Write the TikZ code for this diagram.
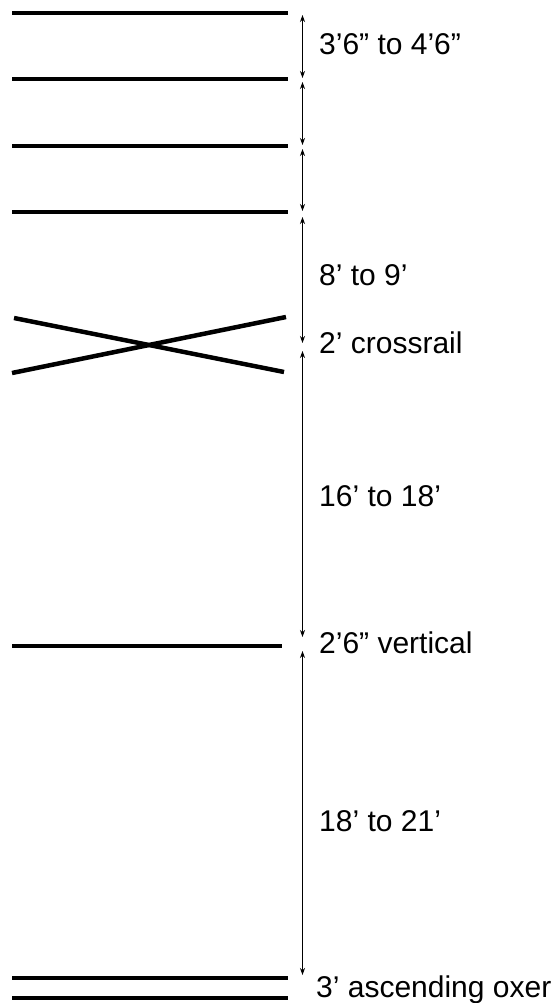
\documentclass[tikz,border=0pt]{standalone}
\usepackage{fontspec}
\setmainfont{Liberation Sans}
\usetikzlibrary{arrows.meta}
\begin{document}
\begin{tikzpicture}[x=1pt,y=-1pt,
  rail/.style={line width=4.5pt, black},
  dim/.style={line width=0.8pt, {Stealth[length=7pt,width=5pt]}-{Stealth[length=7pt,width=5pt]}},
  lbl/.style={anchor=base west, inner sep=0pt, font=\fontsize{30}{33}\selectfont}]
\useasboundingbox (0,0) rectangle (558,1003);
% rails
\draw[rail] (12,13) -- (288,13);
\draw[rail] (12,79) -- (288,79);
\draw[rail] (12,146) -- (288,146);
\draw[rail] (12,212) -- (288,212);
\draw[rail] (14,318) -- (284,372);
\draw[rail] (12,373) -- (286,317);
\draw[rail] (12,646) -- (282,646);
\draw[rail] (12,978) -- (288,978);
\draw[rail] (12,998) -- (288,998);
% dimension end points
\coordinate (a1) at (302.5,15);  \coordinate (b1) at (302.5,78);
\coordinate (a2) at (302.5,82);  \coordinate (b2) at (302.5,145);
\coordinate (a3) at (302.5,149); \coordinate (b3) at (302.5,211);
\coordinate (a4) at (302.5,217); \coordinate (b4) at (302.5,343);
\coordinate (a5) at (302.5,351); \coordinate (b5) at (302.5,637);
\coordinate (a6) at (302.5,651); \coordinate (b6) at (302.5,975);
\draw[dim] (a1) -- (b1);
\draw[dim] (a2) -- (b2);
\draw[dim] (a3) -- (b3);
\draw[dim] (a4) -- (b4);
\draw[dim] (a5) -- (b5);
\draw[dim] (a6) -- (b6);
% labels
\node[lbl] (t1) at (319,55) {3’6” to 4’6”};
\node[lbl] (t2) at (319,285) {8’ to 9’};
\node[lbl] (t3) at (319,353) {2’ crossrail};
\node[lbl] (t4) at (319,506) {16’ to 18’};
\node[lbl] (t5) at (319,653) {2’6” vertical};
\node[lbl] (t6) at (319,831) {18’ to 21’};
\node[lbl] (t7) at (316,997) {3’ ascending oxer};
\end{tikzpicture}
\end{document}
